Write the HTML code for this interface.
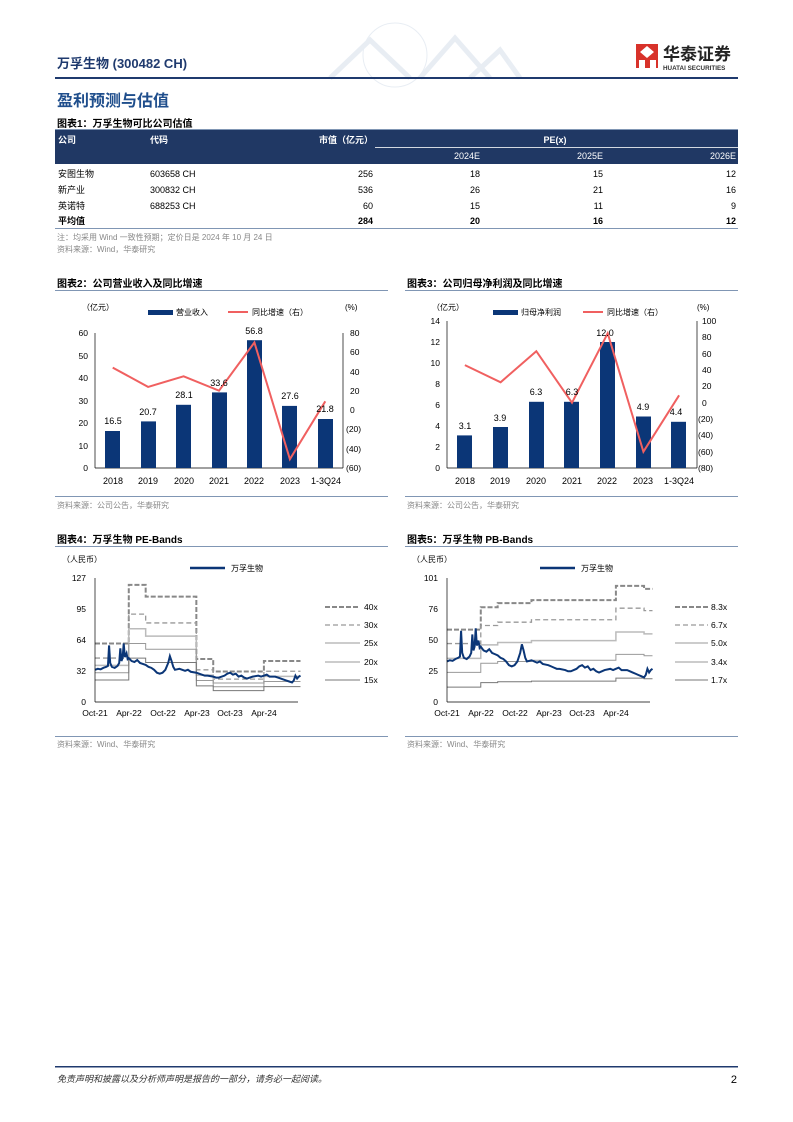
<!DOCTYPE html>
<html><head><meta charset="utf-8"><style>
html,body{margin:0;padding:0;background:#fff;}
svg{display:block;}
text{font-family:"Liberation Sans","Noto Sans CJK SC",sans-serif;}
</style></head><body>
<svg width="793" height="1122" viewBox="0 0 793 1122" xmlns="http://www.w3.org/2000/svg">
<g opacity="0.2" fill="none" stroke="#8fa8c8">
<circle cx="395" cy="55" r="32" stroke-width="1"/>
<path d="M330 78 L370 40 L410 78 M420 78 L455 38 L490 78 M470 78 L500 50 L520 78" stroke-width="5"/>
</g>
<text x="57" y="68" font-size="13" font-weight="bold" fill="#1f3a6e">万孚生物 (300482 CH)</text>
<rect x="636" y="44" width="22" height="24" fill="#d8322a"/>
<path d="M640 52 L647 46 L654 52 L647 58Z M639 60 h6 v8 h-6z M650 60 h6 v8 h-6z" fill="#fff"/>
<text x="663" y="60" font-size="17" font-weight="bold" fill="#222">华泰证券</text>
<text x="663" y="70" font-size="6.3" font-weight="bold" fill="#333">HUATAI SECURITIES</text>
<rect x="55" y="77" width="683" height="2" fill="#1f3a6e"/>
<text x="57" y="106" font-size="16" font-weight="bold" fill="#1f4e8c">盈利预测与估值</text>

<text x="57" y="127" font-size="10" font-weight="bold" fill="#000">图表1：万孚生物可比公司估值</text>
<rect x="55" y="129" width="683" height="1" fill="#8096b4"/>
<rect x="55" y="130" width="683" height="34" fill="#203864"/>
<rect x="375" y="147" width="363" height="0.8" fill="#fff"/>
<g font-size="9" fill="#fff" font-weight="bold">
<text x="58" y="143">公司</text><text x="150" y="143">代码</text>
<text x="373" y="143" text-anchor="end">市值（亿元）</text>
<text x="555" y="143" text-anchor="middle">PE(x)</text>
</g>
<g font-size="9" fill="#fff">
<text x="480" y="159" text-anchor="end">2024E</text>
<text x="603" y="159" text-anchor="end">2025E</text>
<text x="736" y="159" text-anchor="end">2026E</text>
</g>
<g font-size="9" fill="#000">
<text x="58" y="177">安图生物</text><text x="150" y="177">603658 CH</text><text x="373" y="177" text-anchor="end">256</text><text x="480" y="177" text-anchor="end">18</text><text x="603" y="177" text-anchor="end">15</text><text x="736" y="177" text-anchor="end">12</text>
<text x="58" y="193">新产业</text><text x="150" y="193">300832 CH</text><text x="373" y="193" text-anchor="end">536</text><text x="480" y="193" text-anchor="end">26</text><text x="603" y="193" text-anchor="end">21</text><text x="736" y="193" text-anchor="end">16</text>
<text x="58" y="209">英诺特</text><text x="150" y="209">688253 CH</text><text x="373" y="209" text-anchor="end">60</text><text x="480" y="209" text-anchor="end">15</text><text x="603" y="209" text-anchor="end">11</text><text x="736" y="209" text-anchor="end">9</text>
<g font-weight="bold"><text x="58" y="224">平均值</text><text x="373" y="224" text-anchor="end">284</text><text x="480" y="224" text-anchor="end">20</text><text x="603" y="224" text-anchor="end">16</text><text x="736" y="224" text-anchor="end">12</text></g>
</g>
<rect x="55" y="228" width="683" height="1" fill="#8096b4"/>
<text x="57" y="240" font-size="8" fill="#888">注：均采用 Wind 一致性预期；定价日是 2024 年 10 月 24 日</text>
<text x="57" y="252" font-size="8" fill="#888">资料来源：Wind，华泰研究</text>

<text x="57" y="287" font-size="10" font-weight="bold">图表2：公司营业收入及同比增速</text>
<rect x="55" y="290" width="333" height="1" fill="#8096b4"/>
<g font-size="8" fill="#000">
<text x="82" y="310">（亿元）</text><text x="345" y="310">(%)</text>
<rect x="148" y="310" width="25" height="5" fill="#0b3677"/><text x="176" y="315">营业收入</text>
<line x1="228" y1="312" x2="248" y2="312" stroke="#f06060" stroke-width="2"/><text x="252" y="315">同比增速（右）</text>
</g>
<g stroke="#000" stroke-width="0.7">
<line x1="95" y1="333" x2="95" y2="468"/><line x1="343" y1="333" x2="343" y2="468"/><line x1="95" y1="468" x2="343" y2="468"/>
</g>
<g font-size="8.5" text-anchor="end">
<text x="88" y="471">0</text><text x="88" y="449">10</text><text x="88" y="426">20</text><text x="88" y="404">30</text><text x="88" y="381">40</text><text x="88" y="359">50</text><text x="88" y="336">60</text>
</g>
<g font-size="8.5">
<text x="350" y="336">80</text><text x="350" y="355">60</text><text x="350" y="375">40</text><text x="350" y="394">20</text><text x="350" y="413">0</text><text x="346" y="432">(20)</text><text x="346" y="452">(40)</text><text x="346" y="471">(60)</text>
</g>
<g fill="#0b3677">
<rect x="105" y="431" width="15" height="37"/><rect x="141" y="421.4" width="15" height="46.6"/><rect x="176" y="404.8" width="15" height="63.2"/><rect x="212" y="392.4" width="15" height="75.6"/><rect x="247" y="340.2" width="15" height="127.8"/><rect x="282" y="405.9" width="15" height="62.1"/><rect x="318" y="419" width="15" height="49"/>
</g>
<polyline points="112.7,367.6 148.1,386.9 183.6,376.3 219,390.7 254.4,342.5 289.9,459.2 325.3,401.3" fill="none" stroke="#f06060" stroke-width="2"/>
<g font-size="9" text-anchor="middle">
<text x="113" y="424">16.5</text><text x="148" y="415">20.7</text><text x="184" y="398">28.1</text><text x="219" y="386">33.6</text><text x="254" y="334">56.8</text><text x="290" y="399">27.6</text><text x="325" y="412">21.8</text>
<text x="113" y="484">2018</text><text x="148" y="484">2019</text><text x="184" y="484">2020</text><text x="219" y="484">2021</text><text x="254" y="484">2022</text><text x="290" y="484">2023</text><text x="326" y="484">1-3Q24</text>
</g>
<rect x="55" y="496" width="333" height="1" fill="#8096b4"/>
<text x="57" y="508" font-size="8" fill="#888">资料来源：公司公告，华泰研究</text>

<text x="407" y="287" font-size="10" font-weight="bold">图表3：公司归母净利润及同比增速</text>
<rect x="405" y="290" width="333" height="1" fill="#8096b4"/>
<g font-size="8" fill="#000">
<text x="432" y="310">（亿元）</text><text x="697" y="310">(%)</text>
<rect x="493" y="310" width="25" height="5" fill="#0b3677"/><text x="521" y="315">归母净利润</text>
<line x1="583" y1="312" x2="603" y2="312" stroke="#f06060" stroke-width="2"/><text x="607" y="315">同比增速（右）</text>
</g>
<g stroke="#000" stroke-width="0.7">
<line x1="447" y1="321" x2="447" y2="468"/><line x1="697" y1="321" x2="697" y2="468"/><line x1="447" y1="468" x2="697" y2="468"/>
</g>
<g font-size="8.5" text-anchor="end">
<text x="440" y="471">0</text><text x="440" y="450">2</text><text x="440" y="429">4</text><text x="440" y="408">6</text><text x="440" y="387">8</text><text x="440" y="366">10</text><text x="440" y="345">12</text><text x="440" y="324">14</text>
</g>
<g font-size="8.5">
<text x="702" y="324">100</text><text x="702" y="340">80</text><text x="702" y="357">60</text><text x="702" y="373">40</text><text x="702" y="389">20</text><text x="702" y="406">0</text><text x="698" y="422">(20)</text><text x="698" y="438">(40)</text><text x="698" y="455">(60)</text><text x="698" y="471">(80)</text>
</g>
<g fill="#0b3677">
<rect x="457" y="435.4" width="15" height="32.6"/><rect x="493" y="427" width="15" height="41"/><rect x="529" y="401.8" width="15" height="66.2"/><rect x="564" y="401.8" width="15" height="66.2"/><rect x="600" y="342" width="15" height="126"/><rect x="636" y="416.5" width="15" height="51.5"/><rect x="671" y="421.8" width="15" height="46.2"/>
</g>
<polyline points="464.9,365.1 500.6,382.3 536.3,351.2 572,402.7 607.7,333.3 643.4,451.7 679.1,395.3" fill="none" stroke="#f06060" stroke-width="2"/>
<g font-size="9" text-anchor="middle">
<text x="465" y="429">3.1</text><text x="500" y="421">3.9</text><text x="536" y="395">6.3</text><text x="572" y="395">6.3</text><text x="605" y="336">12.0</text><text x="643" y="410">4.9</text><text x="676" y="415">4.4</text>
<text x="465" y="484">2018</text><text x="500" y="484">2019</text><text x="536" y="484">2020</text><text x="572" y="484">2021</text><text x="607" y="484">2022</text><text x="643" y="484">2023</text><text x="679" y="484">1-3Q24</text>
</g>
<rect x="405" y="496" width="333" height="1" fill="#8096b4"/>
<text x="407" y="508" font-size="8" fill="#888">资料来源：公司公告，华泰研究</text>

<text x="57" y="543" font-size="10" font-weight="bold">图表4：万孚生物 PE-Bands</text>
<rect x="55" y="546" width="333" height="1" fill="#8096b4"/>
<text x="62" y="562" font-size="8">（人民币）</text>
<line x1="190" y1="568" x2="225" y2="568" stroke="#0b3677" stroke-width="2.5"/><text x="231" y="571" font-size="8">万孚生物</text>
<g transform="translate(95,702) scale(5.63,-0.976)" fill="none">
<path d="M0 60 H6 V120 H9 V108 H18 V44 H21 V31.2 H30 V42 H36.5" stroke="#888" stroke-width="2" stroke-dasharray="5,2" vector-effect="non-scaling-stroke"/>
<path d="M0 45 H6 V90 H9 V81 H18 V33 H21 V23.4 H30 V31.5 H36.5" stroke="#999" stroke-width="1.3" stroke-dasharray="5,3" vector-effect="non-scaling-stroke"/>
<path d="M0 37.5 H6 V75 H9 V67.5 H18 V27.5 H21 V19.5 H30 V26.3 H36.5" stroke="#bbb" stroke-width="1.5" vector-effect="non-scaling-stroke"/>
<path d="M0 30 H6 V60 H9 V54 H18 V22 H21 V15.6 H30 V21 H36.5" stroke="#999" stroke-width="1" vector-effect="non-scaling-stroke"/>
<path d="M0 22.5 H6 V45 H9 V40.5 H18 V16.5 H21 V11.7 H30 V15.8 H36.5" stroke="#777" stroke-width="1" vector-effect="non-scaling-stroke"/>
<polyline id="px" points="0,33 0.5,34 1,33.5 1.5,35 2,36 2.3,37 2.5,58 2.7,40 3,36 3.5,35 4,37 4.3,40 4.5,55 4.7,42 4.9,45 5.1,60 5.3,46 5.6,50 5.8,44 6,45 6.5,42 7,41 7.5,43 8,40 8.5,39 9,38 9.5,36 10,35 10.5,33 11,30 11.5,29 12,30 12.5,33 13,40 13.3,47 13.6,42 13.9,36 14.2,33 15,34 16,32 16.5,33 17,31 18,30 18.5,29 19,28 19.5,27 20,27 21,26 21.5,25 22,25 23,27 23.5,29 24,30 24.5,28 25,29 25.5,26 26,27 26.5,25 27,24 27.5,25 28,26 29,27 29.5,26 30,27 30.5,28 31,26 32,26 32.5,25 33,24 33.5,23 34,22 34.5,21 35,20 35.3,22 35.6,27 35.9,24 36.2,26 36.5,27" stroke="#0b3677" stroke-width="2" vector-effect="non-scaling-stroke"/>
</g>
<g stroke="#000" stroke-width="0.7"><line x1="95" y1="578" x2="95" y2="702"/><line x1="95" y1="702" x2="298" y2="702"/></g>
<g font-size="8.5" text-anchor="end"><text x="86" y="705">0</text><text x="86" y="674">32</text><text x="86" y="643">64</text><text x="86" y="612">95</text><text x="86" y="581">127</text></g>
<g font-size="8.5" text-anchor="middle"><text x="95" y="716">Oct-21</text><text x="129" y="716">Apr-22</text><text x="163" y="716">Oct-22</text><text x="197" y="716">Apr-23</text><text x="230" y="716">Oct-23</text><text x="264" y="716">Apr-24</text></g>
<g font-size="8.5">
<line x1="325" y1="607" x2="360" y2="607" stroke="#888" stroke-width="2" stroke-dasharray="5,2"/><text x="364" y="610">40x</text>
<line x1="325" y1="625" x2="360" y2="625" stroke="#999" stroke-width="1.3" stroke-dasharray="5,3"/><text x="364" y="628">30x</text>
<line x1="325" y1="643" x2="360" y2="643" stroke="#999" stroke-width="1"/><text x="364" y="646">25x</text>
<line x1="325" y1="662" x2="360" y2="662" stroke="#999" stroke-width="1"/><text x="364" y="665">20x</text>
<line x1="325" y1="680" x2="360" y2="680" stroke="#777" stroke-width="1"/><text x="364" y="683">15x</text>
</g>
<rect x="55" y="736" width="333" height="1" fill="#8096b4"/>
<text x="57" y="747" font-size="8" fill="#888">资料来源：Wind、华泰研究</text>

<text x="407" y="543" font-size="10" font-weight="bold">图表5：万孚生物 PB-Bands</text>
<rect x="405" y="546" width="333" height="1" fill="#8096b4"/>
<text x="412" y="562" font-size="8">（人民币）</text>
<line x1="540" y1="568" x2="575" y2="568" stroke="#0b3677" stroke-width="2.5"/><text x="581" y="571" font-size="8">万孚生物</text>
<g transform="translate(447,702) scale(5.63,-1.228)" fill="none">
<path d="M0 58.9 H6 V77.2 H9 V80.5 H15 V83 H30 V94.6 H35 V92.1 H36.5" stroke="#888" stroke-width="2" stroke-dasharray="5,2" vector-effect="non-scaling-stroke"/>
<path d="M0 47.6 H6 V62.3 H9 V65 H15 V67 H30 V76.4 H35 V74.4 H36.5" stroke="#999" stroke-width="1.3" stroke-dasharray="5,3" vector-effect="non-scaling-stroke"/>
<path d="M0 35.5 H6 V46.5 H9 V48.5 H15 V50 H30 V57 H35 V55.5 H36.5" stroke="#bbb" stroke-width="1.5" vector-effect="non-scaling-stroke"/>
<path d="M0 24.1 H6 V31.6 H9 V33 H15 V34 H30 V38.8 H35 V37.7 H36.5" stroke="#999" stroke-width="1" vector-effect="non-scaling-stroke"/>
<path d="M0 12.1 H6 V15.8 H9 V16.5 H15 V17 H30 V19.4 H35 V18.9 H36.5" stroke="#777" stroke-width="1" vector-effect="non-scaling-stroke"/>
<use href="#px"/>
</g>
<g stroke="#000" stroke-width="0.7"><line x1="447" y1="578" x2="447" y2="702"/><line x1="447" y1="702" x2="650" y2="702"/></g>
<g font-size="8.5" text-anchor="end"><text x="438" y="705">0</text><text x="438" y="674">25</text><text x="438" y="643">50</text><text x="438" y="612">76</text><text x="438" y="581">101</text></g>
<g font-size="8.5" text-anchor="middle"><text x="447" y="716">Oct-21</text><text x="481" y="716">Apr-22</text><text x="515" y="716">Oct-22</text><text x="549" y="716">Apr-23</text><text x="582" y="716">Oct-23</text><text x="616" y="716">Apr-24</text></g>
<g font-size="8.5">
<line x1="675" y1="607" x2="708" y2="607" stroke="#888" stroke-width="2" stroke-dasharray="5,2"/><text x="711" y="610">8.3x</text>
<line x1="675" y1="625" x2="708" y2="625" stroke="#999" stroke-width="1.3" stroke-dasharray="5,3"/><text x="711" y="628">6.7x</text>
<line x1="675" y1="643" x2="708" y2="643" stroke="#999" stroke-width="1"/><text x="711" y="646">5.0x</text>
<line x1="675" y1="662" x2="708" y2="662" stroke="#999" stroke-width="1"/><text x="711" y="665">3.4x</text>
<line x1="675" y1="680" x2="708" y2="680" stroke="#777" stroke-width="1"/><text x="711" y="683">1.7x</text>
</g>
<rect x="405" y="736" width="333" height="1" fill="#8096b4"/>
<text x="407" y="747" font-size="8" fill="#888">资料来源：Wind、华泰研究</text>

<rect x="55" y="1066" width="683" height="1.5" fill="#1f3a6e"/>
<text x="57" y="1082" font-size="9" font-style="italic" fill="#333">免责声明和披露以及分析师声明是报告的一部分，请务必一起阅读。</text>
<text x="737" y="1083" font-size="11" text-anchor="end">2</text>
</svg>
</body></html>
